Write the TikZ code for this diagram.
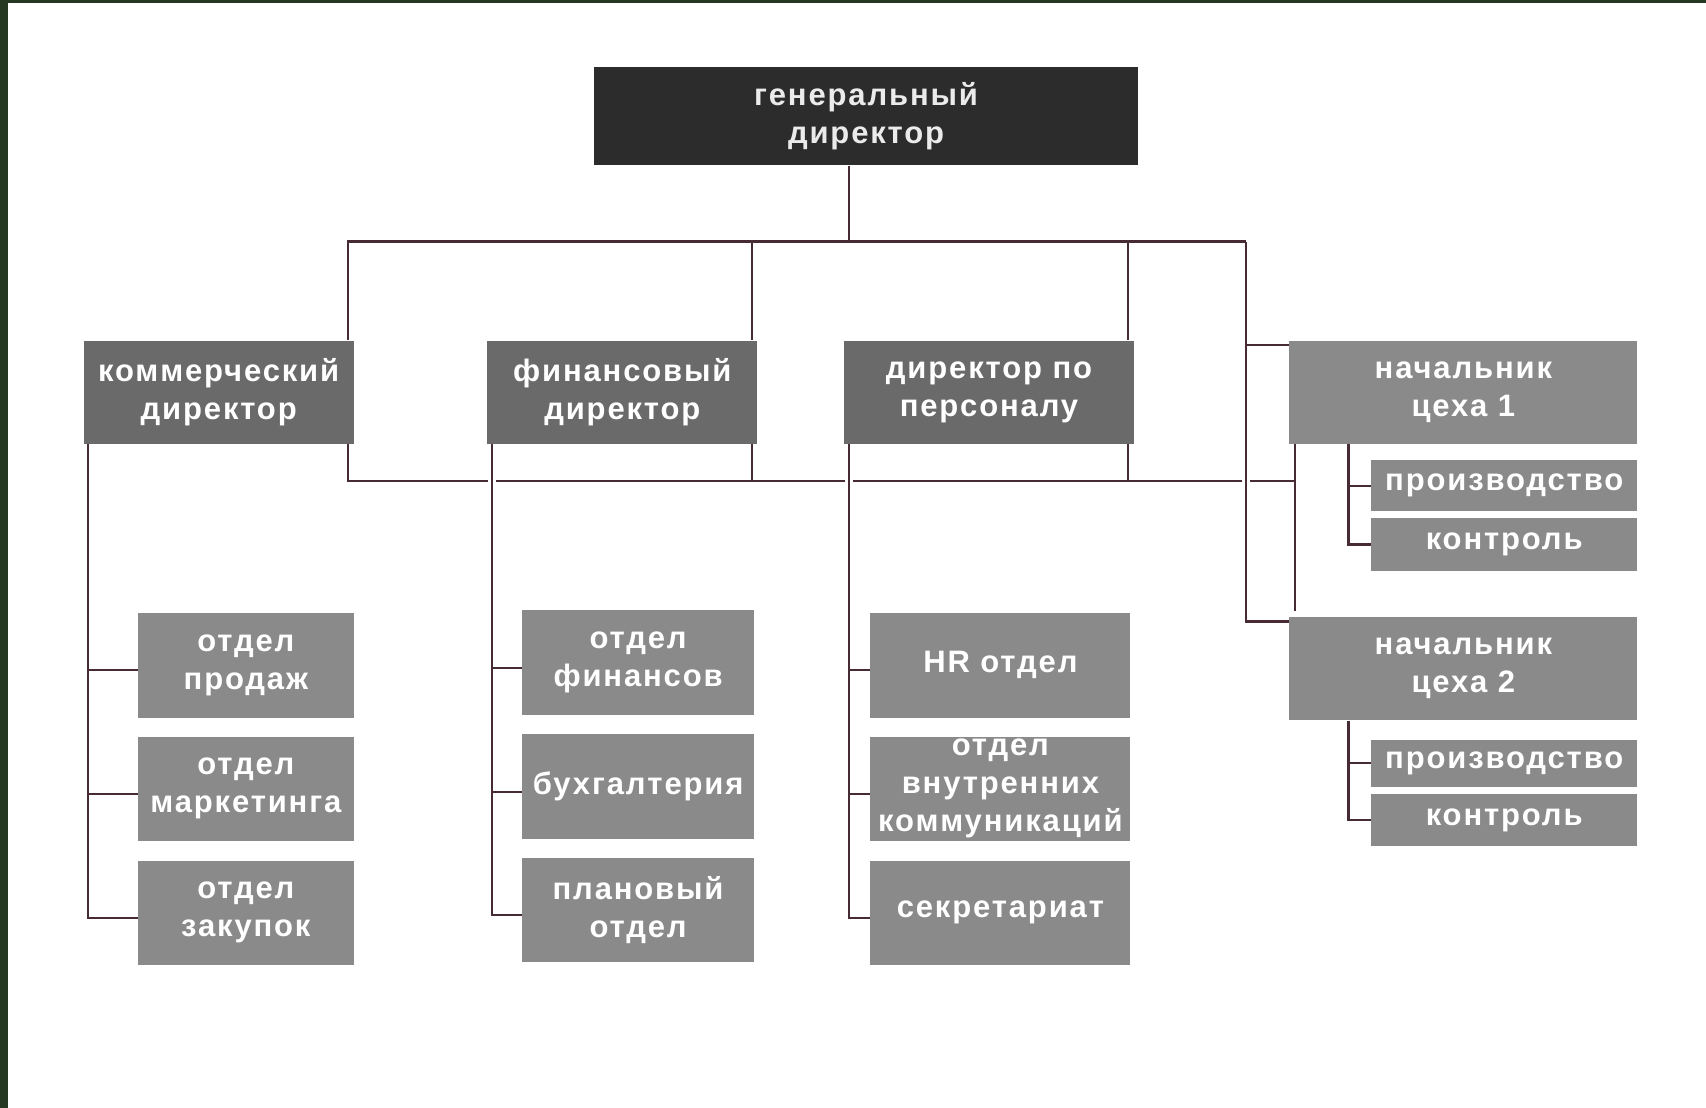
\documentclass[tikz,border=0pt]{standalone}
\usepackage{fontspec}
\setmainfont[LetterSpace=6]{Liberation Sans}

\newcommand\px{0.544pt}
\definecolor{framegreen}{RGB}{36,56,34}
\definecolor{wirered}{RGB}{70,42,52}
\definecolor{chiefgray}{RGB}{44,44,44}
\definecolor{headgray}{RGB}{106,106,106}
\definecolor{deptgray}{RGB}{138,138,138}

\tikzset{
  unit/.style={inner sep=0pt, align=center, text=white,
    font=\bfseries\fontsize{15.5}{19}\selectfont},
  dims/.style 2 args={minimum width=#1*\px, minimum height=#2*\px},
  chief/.style={unit, fill=chiefgray, text=black!8},
  head/.style={unit, fill=headgray},
  dept/.style={unit, fill=deptgray},
  wire/.style={draw=wirered, line width=1.1pt},
  gap/.style={preaction={draw=white, line width=4pt}},
}

\begin{document}
\begin{tikzpicture}[x=\px, y=-\px]
\useasboundingbox (0,0) rectangle (1568,1018);
\fill[white] (0,0) rectangle (1568,1018);
\fill[framegreen] (0,0) rectangle (7,1018);
\fill[framegreen] (0,0) rectangle (1568,3);

% top and directors
\node[chief, dims={500}{90}] (gd) at (796,107) {генеральный\\директор};
\node[head, dims={248}{95}] (kd) at (201,360.5) {коммерческий\\директор};
\node[head, dims={248}{95}] (fd) at (572,360.5) {финансовый\\директор};
\node[head, dims={266}{95}] (pd) at (909,360.5) {директор по\\персоналу};
\node[dept, dims={320}{95}] (cx1) at (1345,360.5) {начальник\\цеха 1};
\node[dept, dims={320}{95}] (cx2) at (1345,614.5) {начальник\\цеха 2};

% departments
\node[dept, dims={198}{97}] (sales) at (226,611.5) {отдел\\продаж};
\node[dept, dims={198}{96}] (mkt) at (226,725) {отдел\\маркетинга};
\node[dept, dims={198}{96}] (buy) at (226,839) {отдел\\закупок};
\node[dept, dims={213}{96}] (fin) at (586.5,609) {отдел\\финансов};
\node[dept, dims={213}{96}] (acc) at (586.5,723) {бухгалтерия};
\node[dept, dims={213}{95}] (plan) at (586.5,836.5) {плановый\\отдел};
\node[dept, dims={239}{97}] (hr) at (919.5,611.5) {HR отдел};
\node[dept, dims={239}{96}] (comm) at (919.5,725) {отдел\\внутренних\\коммуникаций};
\node[dept, dims={239}{96}] (sec) at (919.5,839) {секретариат};
\node[dept, dims={245}{47}] (prodA) at (1382.5,446.5) {производство};
\node[dept, dims={245}{49}] (ctrlA) at (1382.5,500.5) {контроль};
\node[dept, dims={245}{43}] (prodB) at (1382.5,701.5) {производство};
\node[dept, dims={245}{48}] (ctrlB) at (1382.5,754) {контроль};

% upper bus
\coordinate (mid) at (780,222);
\coordinate (kdrop) at (320,222);
\coordinate (fdrop) at (691,222);
\coordinate (pdrop) at (1037,222);
\coordinate (cdrop) at (1145,222);
\draw[wire] (mid |- gd.south) -- (mid);
\draw[wire] (kdrop |- kd.north) -- (kdrop) -- (cdrop);
\draw[wire] (fdrop) -- (fdrop |- fd.north);
\draw[wire] (pdrop) -- (pdrop |- pd.north);

% lower bus
\coordinate (kfoot) at (320,442);
\coordinate (cfoot) at (1190,442);
\draw[wire] (kfoot |- kd.south) -- (kfoot) -- (cfoot);
\draw[wire] (fdrop |- fd.south) -- (fdrop |- kfoot);
\draw[wire] (pdrop |- pd.south) -- (pdrop |- kfoot);
\draw[wire] (cfoot |- cx1.south) -- ([yshift=3pt]cfoot |- cx2.north);

% shop chiefs
\draw[wire, gap] ([yshift=-2.5pt]cx1.north west -| cdrop) -- ([yshift=-2.5pt]cx2.north west -| cdrop);
\draw[wire] ([yshift=-2.5pt]cx2.north west) -| (cdrop);
\draw[wire] ([yshift=-2.5pt]cx1.north west) -| (cdrop);

% department trees
\foreach \d/\a/\b/\c in {kd/sales/mkt/buy, fd/fin/acc/plan, pd/hr/comm/sec}{
  \draw[wire, gap] ([xshift=2.5pt]\d.south west) -- ([xshift=2.5pt,yshift=-2.5pt]\d.south west |- \c.west) -- ([yshift=-2.5pt]\c.west);
  \foreach \n in {\a,\b}
    \draw[wire] ([xshift=2.5pt,yshift=-2.5pt]\d.south west |- \n.west) -- ([yshift=-2.5pt]\n.west);
}
\foreach \s/\p/\q in {cx1/prodA/ctrlA, cx2/prodB/ctrlB}{
  \draw[wire] ([xshift=-11pt]\p.west |- \s.south) -- ([xshift=-11pt]\q.west) -- (\q.west);
  \draw[wire] ([xshift=-11pt]\p.west) -- (\p.west);
}
\end{tikzpicture}
\end{document}
